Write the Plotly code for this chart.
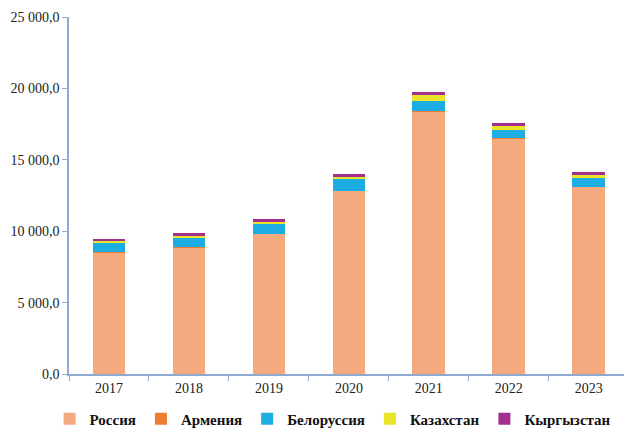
import plotly.graph_objects as go

years = ["2017", "2018", "2019", "2020", "2021", "2022", "2023"]
russia = [8510, 8880, 9810, 12820, 18400, 16490, 13100]
armenia = [10, 10, 10, 10, 10, 10, 10]
belarus = [660, 640, 670, 880, 740, 620, 600]
kazakhstan = [100, 140, 160, 120, 420, 280, 260]
kyrgyzstan = [180, 170, 170, 160, 180, 160, 180]

series_names = ["Россия", "Армения", "Белоруссия", "Казахстан", "Кыргызстан"]
series_values = [russia, armenia, belarus, kazakhstan, kyrgyzstan]
series_colors = ["#F4AA7E", "#ED7D31", "#1EADE3", "#EAE52A", "#A3308F"]

y_tickvals = [0, 5000, 10000, 15000, 20000, 25000]
y_ticktext = ["0,0", "5 000,0", "10 000,0", "15 000,0", "20 000,0", "25 000,0"]

fig = go.Figure()
for name, vals, col in zip(series_names, series_values, series_colors):
    fig.add_trace(go.Bar(x=years, y=vals, name=name,
                         marker=dict(color=col, line=dict(width=0))))

axis_col = "#8FAAD0"
serif = "Liberation Serif"
fig.update_layout(
    width=624, height=428,
    barmode="stack", bargap=0.59,
    plot_bgcolor="white", paper_bgcolor="white",
    margin=dict(l=69, r=0, t=17, b=54, autoexpand=False),
    font=dict(family=serif, size=14, color="#222222"),
    showlegend=True,
    legend=dict(orientation="h", x=-0.035, xanchor="left", y=-0.126, yanchor="middle",
                font=dict(family=serif, size=15, color="#111111", weight="bold"),
                itemwidth=30, tracegroupgap=0, traceorder="normal"),
    xaxis=dict(type="category", range=[-0.5, 6.44], showline=True, linecolor=axis_col,
               linewidth=1.5, ticks="outside", tickson="boundaries", ticklen=5,
               tickcolor=axis_col, showgrid=False, zeroline=False,
               tickfont=dict(family=serif, size=14)),
    yaxis=dict(range=[0, 25000], tickvals=y_tickvals, ticktext=y_ticktext,
               showline=True, linecolor=axis_col, linewidth=1.5, ticks="outside",
               ticklen=5, tickcolor=axis_col, showgrid=False, zeroline=False,
               tickfont=dict(family=serif, size=14)),
)

fig.write_html("out.html")
